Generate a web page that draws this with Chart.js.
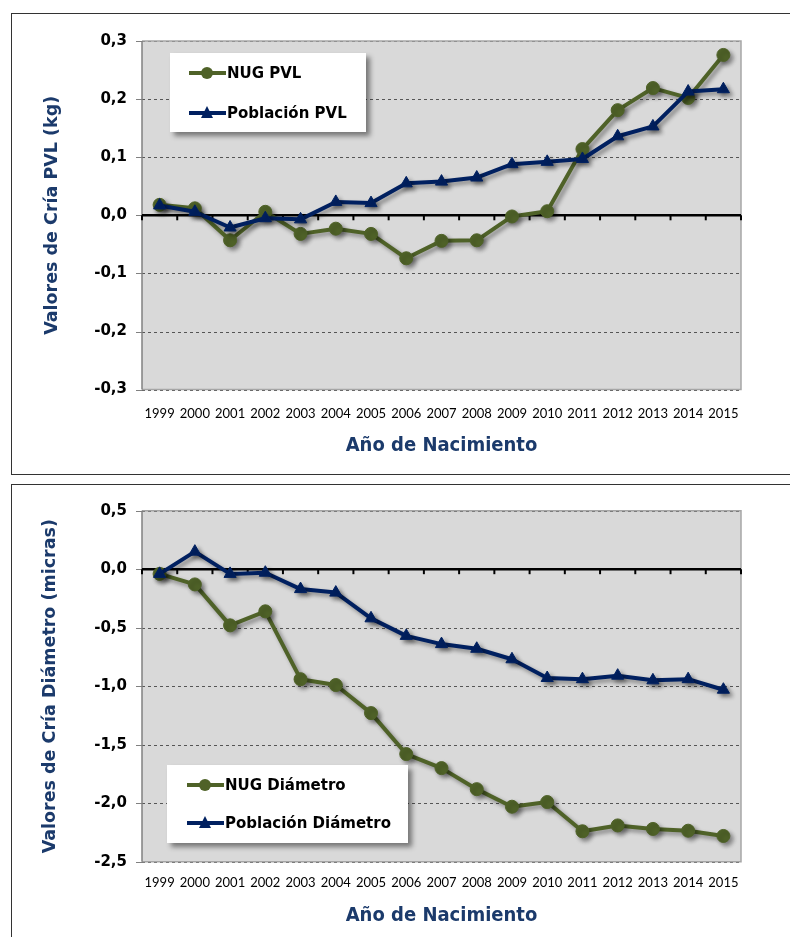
<!DOCTYPE html>
<html>
<head>
<meta charset="utf-8">
<script src="https://cdn.jsdelivr.net/npm/chart.js@4"></script>
<style>
  html, body { margin: 0; padding: 0; background: #fff; }
  body { width: 790px; height: 937px; position: relative; overflow: hidden; }
  .panel { position: absolute; border: 1.5px solid #333; box-sizing: border-box; }
  canvas { position: absolute; left: 0; }
  .legend { position: absolute; background: #fff; box-shadow: 4px 4px 5px rgba(0,0,0,.45);
    font: bold 15px "DejaVu Sans", sans-serif; color: #000; }
  .item { position: absolute; display: flex; align-items: center; white-space: nowrap; height: 20px; }
  .swatch { position: relative; width: 37px; height: 20px; margin-right: 1px; }
  .swatch .ln { position: absolute; left: 0; right: 0; top: 8px; height: 4px; }
  .swatch .dot { position: absolute; left: 12px; top: 4px; width: 12px; height: 12px; border-radius: 50%; }
  .swatch .tri { position: absolute; left: 12px; top: 3px; width: 0; height: 0;
    border-left: 6.5px solid transparent; border-right: 6.5px solid transparent; border-bottom: 12px solid; }
</style>
</head>
<body>
<div class="panel" style="left:11px;top:13px;width:800px;height:462px"></div>
<div class="panel" style="left:11px;top:484px;width:800px;height:470px"></div>
<canvas id="pvl" width="790" height="478" style="top:0"></canvas>
<canvas id="diam" width="790" height="457" style="top:480px"></canvas>
<div class="legend" id="legPvl" style="left:170px;top:53px;width:196px;height:79px"></div>
<div class="legend" id="legDiam" style="left:167px;top:765px;width:241px;height:78px"></div>

<script>
const years = ["1999", "2000", "2001", "2002", "2003", "2004", "2005", "2006", "2007",
  "2008", "2009", "2010", "2011", "2012", "2013", "2014", "2015"];

// Valores de cría PVL (kg)
const nugPvl = [0.018, 0.012, -0.043, 0.006, -0.032, -0.023, -0.032, -0.074, -0.044,
  -0.043, -0.002, 0.007, 0.114, 0.181, 0.219, 0.202, 0.276];
const poblacionPvl = [0.017, 0.006, -0.021, -0.005, -0.007, 0.023, 0.021, 0.055, 0.058,
  0.065, 0.088, 0.092, 0.097, 0.136, 0.153, 0.213, 0.217];

// Valores de cría diámetro (micras)
const nugDiam = [-0.04, -0.13, -0.48, -0.36, -0.94, -0.99, -1.23, -1.58, -1.70,
  -1.88, -2.03, -1.99, -2.24, -2.19, -2.22, -2.235, -2.28];
const poblacionDiam = [-0.04, 0.15, -0.04, -0.03, -0.17, -0.20, -0.42, -0.57, -0.64,
  -0.68, -0.77, -0.93, -0.94, -0.91, -0.95, -0.94, -1.03];

const GREEN = "#4f6228", NAVY = "#002060", TITLE = "#1b3a6b";

// grey plot area, dashed grid, frame and the black zero axis with its tick marks
const plotFrame = {
  id: "plotFrame",
  beforeDatasetsDraw(chart) {
    const { ctx, chartArea: a, scales: { x, y } } = chart;
    ctx.save();
    ctx.fillStyle = "#d9d9d9";
    ctx.fillRect(a.left, a.top, a.right - a.left, a.bottom - a.top);

    ctx.lineWidth = 1;
    ctx.strokeStyle = "#555";
    ctx.setLineDash([3, 3]);
    y.ticks.forEach((t) => {
      if (Math.abs(t.value) < 1e-9) return;
      const py = Math.round(y.getPixelForValue(t.value)) + 0.5;
      ctx.beginPath(); ctx.moveTo(a.left, py); ctx.lineTo(a.right, py); ctx.stroke();
    });
    ctx.setLineDash([]);

    ctx.strokeStyle = "#808080";
    y.ticks.forEach((t) => {
      const py = Math.round(y.getPixelForValue(t.value)) + 0.5;
      ctx.beginPath(); ctx.moveTo(a.left - 6, py); ctx.lineTo(a.left, py); ctx.stroke();
    });

    ctx.lineWidth = 1.5;
    ctx.strokeStyle = "#a6a6a6";
    ctx.beginPath();
    ctx.moveTo(a.left, a.top); ctx.lineTo(a.right, a.top);
    ctx.lineTo(a.right, a.bottom); ctx.lineTo(a.left, a.bottom);
    ctx.stroke();
    ctx.strokeStyle = "#808080";
    ctx.beginPath(); ctx.moveTo(a.left, a.top); ctx.lineTo(a.left, a.bottom); ctx.stroke();

    const y0 = y.getPixelForValue(0);
    ctx.strokeStyle = "#000";
    ctx.lineWidth = 2.5;
    ctx.beginPath(); ctx.moveTo(a.left, y0); ctx.lineTo(a.right, y0); ctx.stroke();
    const step = x.getPixelForValue(1) - x.getPixelForValue(0);
    ctx.lineWidth = 2;
    for (let i = 0; i <= years.length; i++) {
      const px = x.getPixelForValue(0) - step / 2 + i * step;
      ctx.beginPath(); ctx.moveTo(px, y0); ctx.lineTo(px, y0 + 5); ctx.stroke();
    }
    ctx.restore();
  },
};

const lineShadow = {
  id: "lineShadow",
  beforeDatasetDraw(chart) {
    const c = chart.ctx;
    c.save();
    c.shadowColor = "rgba(0,0,0,0.4)";
    c.shadowBlur = 4;
    c.shadowOffsetX = 3;
    c.shadowOffsetY = 3;
  },
  afterDatasetDraw(chart) { chart.ctx.restore(); },
};

function series(label, data, color, style, order) {
  return {
    label, data, order,
    borderColor: color, backgroundColor: color,
    borderWidth: 4, tension: 0,
    pointStyle: style,
    pointRadius: style === "triangle" ? 7 : 6.5,
    pointBorderWidth: 1, pointBorderColor: color,
  };
}

const fmt = (v) => (Math.abs(v) < 1e-9 ? "0,0" : v.toFixed(1).replace(".", ","));

function makeChart(id, datasets, cfg) {
  return new Chart(document.getElementById(id), {
    type: "line",
    data: { labels: years, datasets },
    options: {
      responsive: false, animation: false,
      layout: { padding: { left: 0, top: cfg.top, right: 49, bottom: 0 } },
      plugins: { legend: { display: false }, tooltip: { enabled: false } },
      elements: { line: { borderJoinStyle: "round" } },
      clip: false,
      scales: {
        x: {
          offset: true,
          grid: { display: false, drawTicks: false },
          border: { display: false },
          ticks: { autoSkip: false, maxRotation: 0, padding: cfg.xPad, color: "#000",
            font: { family: "Lato", size: 13 } },
          title: { display: true, text: "Año de Nacimiento", color: TITLE,
            font: { family: "DejaVu Sans Condensed, DejaVu Sans", weight: "bold", size: 20 },
            padding: { top: 0, bottom: cfg.xTitlePad } },
          afterFit(s) { s.height = cfg.xHeight; },
        },
        y: {
          min: cfg.min, max: cfg.max,
          grid: { display: false, drawTicks: false },
          border: { display: false },
          ticks: { stepSize: cfg.step, padding: 15, color: "#000", callback: fmt,
            font: { family: "DejaVu Sans", weight: "bold", size: 15 } },
          title: { display: true, text: cfg.yTitle, color: TITLE,
            font: { family: "DejaVu Sans", weight: "bold", size: 17.5 },
            padding: { top: cfg.yTitlePad, bottom: 0 } },
          afterFit(s) { s.width = 142; },
        },
      },
    },
    plugins: [plotFrame, lineShadow],
  });
}

function buildLegend(id, datasets, rows) {
  const box = document.getElementById(id);
  datasets.forEach((d, i) => {
    const item = document.createElement("div");
    item.className = "item";
    item.style.left = rows.left + "px";
    item.style.top = rows.tops[i] + "px";
    const sw = document.createElement("div");
    sw.className = "swatch";
    const ln = document.createElement("div");
    ln.className = "ln"; ln.style.background = d.borderColor;
    const mk = document.createElement("div");
    if (d.pointStyle === "triangle") { mk.className = "tri"; mk.style.borderBottomColor = d.borderColor; }
    else { mk.className = "dot"; mk.style.background = d.borderColor; }
    sw.append(ln, mk);
    const tx = document.createElement("span");
    tx.textContent = d.label;
    item.append(sw, tx);
    box.appendChild(item);
  });
}

const pvlSets = [
  series("NUG PVL", nugPvl, GREEN, "circle", 2),
  series("Población PVL", poblacionPvl, NAVY, "triangle", 1),
];
const diamSets = [
  series("NUG Diámetro", nugDiam, GREEN, "circle", 2),
  series("Población Diámetro", poblacionDiam, NAVY, "triangle", 1),
];

makeChart("pvl", pvlSets, {
  top: 41, min: -0.3, max: 0.3, step: 0.1, xHeight: 88.4, xPad: 16, xTitlePad: 20,
  yTitle: "Valores de Cría PVL (kg)", yTitlePad: 41.5,
});
makeChart("diam", diamSets, {
  top: 30.7, min: -2.5, max: 0.5, step: 0.5, xHeight: 75.3, xPad: 13, xTitlePad: 9,
  yTitle: "Valores de Cría Diámetro (micras)", yTitlePad: 39.5,
});

buildLegend("legPvl", pvlSets, { left: 19, tops: [10, 50] });
buildLegend("legDiam", diamSets, { left: 20, tops: [10, 48] });
</script>
</body>
</html>
